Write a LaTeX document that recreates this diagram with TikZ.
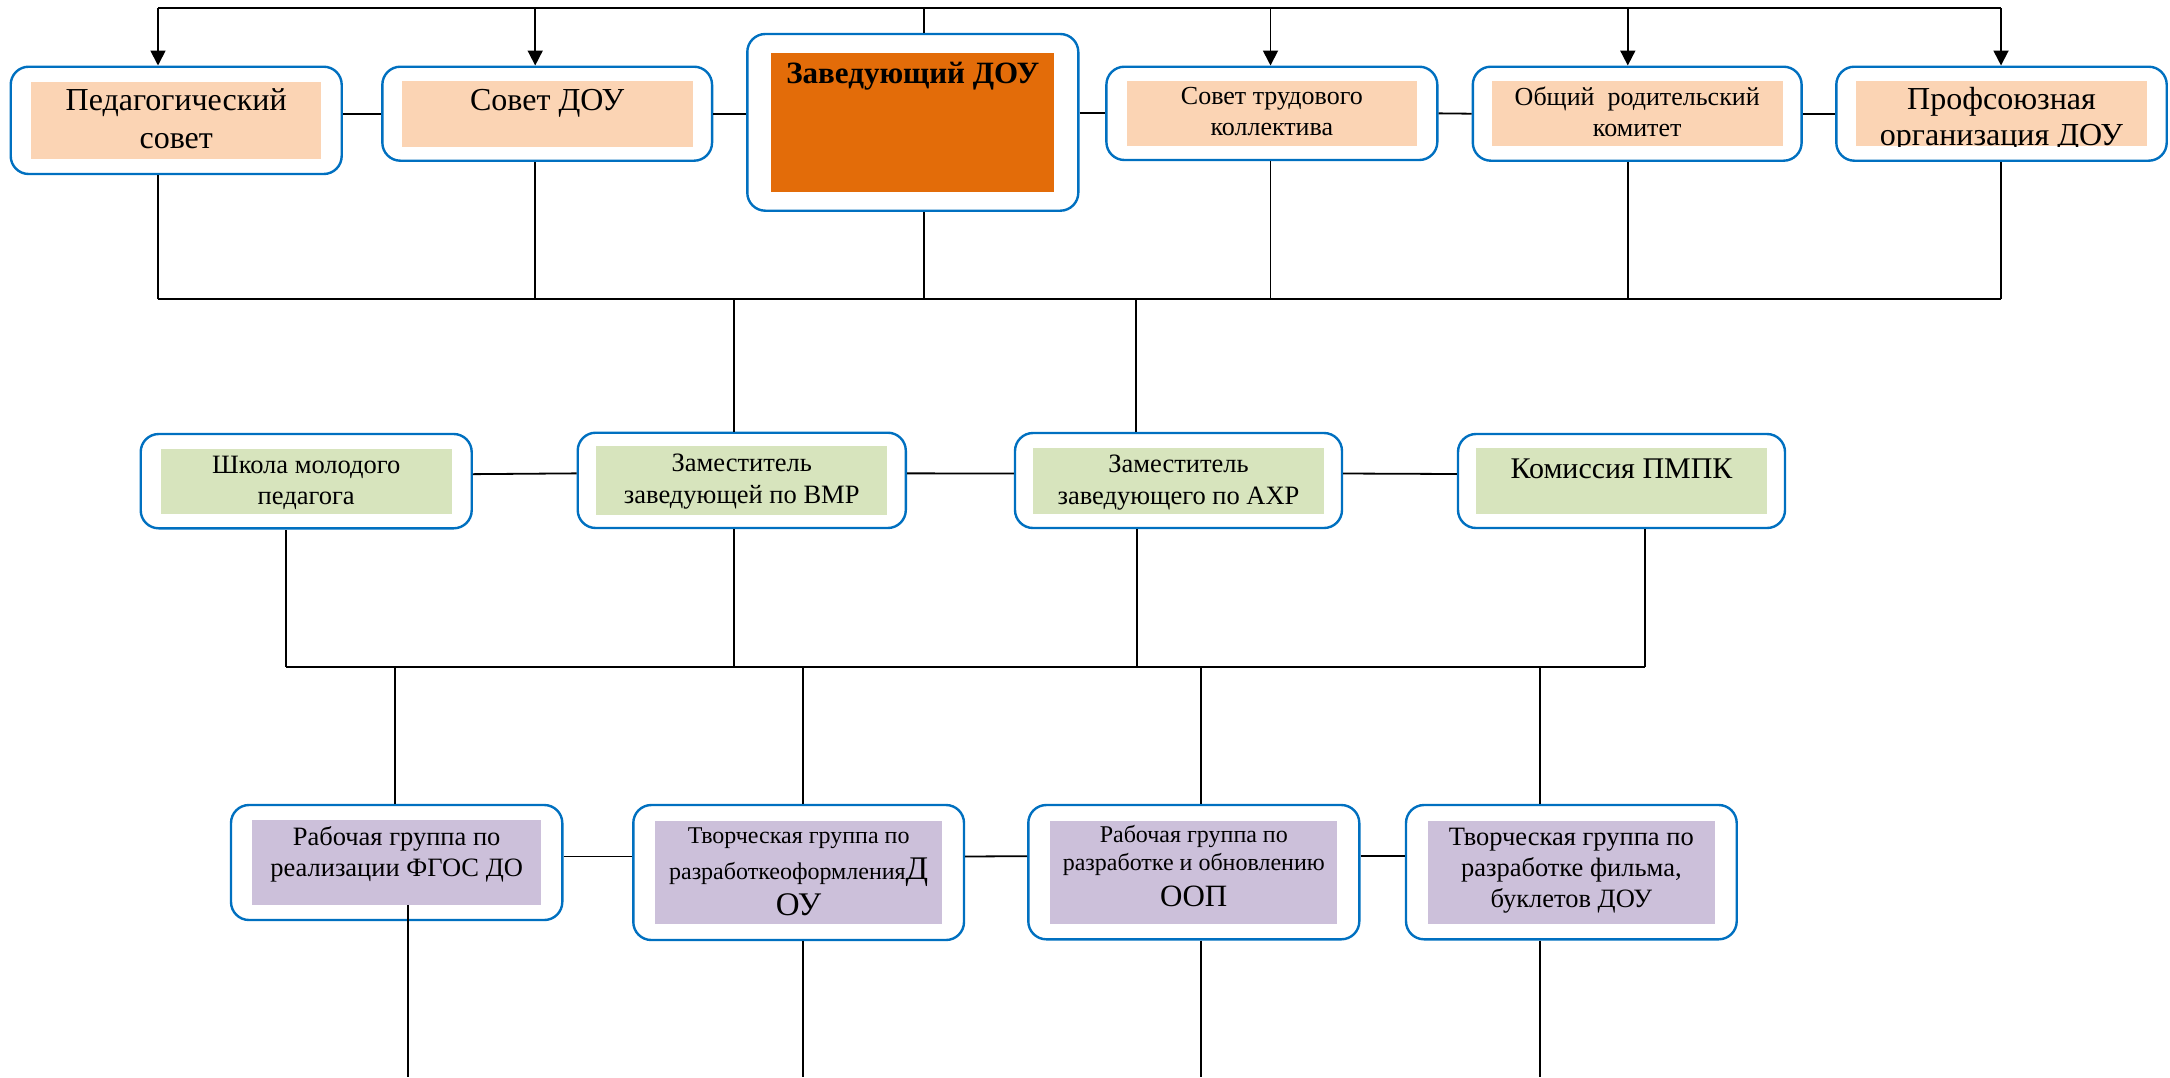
\documentclass[tikz,border=0pt]{standalone}
\usepackage{fontspec}
\setmainfont{Liberation Serif}
\usetikzlibrary{arrows.meta}
\definecolor{peach}{HTML}{FBD4B4}
\definecolor{sage}{HTML}{D7E4BD}
\definecolor{lilac}{HTML}{CCC0DA}
\definecolor{rust}{HTML}{E36C09}
\definecolor{edge}{HTML}{0070C0}
\newcommand{\intext}[4]{\parbox[c][#2][t]{#1}{\centering\rule{0pt}{#3}#4}}

\begin{document}
\begin{tikzpicture}[x=1pt, y=-1pt,
    roundbox/.style={draw=edge, line width=2.4pt, fill=white, rounded corners=18pt, inner sep=0pt},
    inbox/.style={inner sep=0pt, outer sep=0pt},
    link/.style={line width=1.8pt},
    down/.style={line width=1.8pt, -{Triangle[length=15pt, width=15pt]}}]
\useasboundingbox (0,0) rectangle (2170,1077);

% upper row
\node[roundbox, minimum width=331pt, minimum height=107.3pt] (ped) at (176.2,120.35) {};
\node[inbox, fill=peach, font={\fontsize{32}{38}\selectfont}] (ped-in) at (ped.center) {\intext{290pt}{76.7pt}{28pt}{Педагогический\\совет}};
\node[roundbox, minimum width=329.7pt, minimum height=94pt] (sov) at (547.2,113.7) {};
\node[inbox, fill=peach, font={\fontsize{32}{38}\selectfont}] (sov-in) at (sov.center) {\intext{290.8pt}{65.7pt}{29.7pt}{Совет ДОУ}};
\node[roundbox, minimum width=331pt, minimum height=176.7pt] (zav) at (912.8,122.35) {};
\node[inbox, fill=rust, font={\bfseries\fontsize{31}{36}\selectfont}] (zav-in) at (zav.center) {\intext{283pt}{139.7pt}{31pt}{Заведующий ДОУ}};
\node[roundbox, minimum width=330.9pt, minimum height=93.3pt] (str) at (1271.85,113.35) {};
\node[inbox, fill=peach, font={\fontsize{26}{31}\selectfont}] (str-in) at (str.center) {\intext{290.6pt}{65.4pt}{23.7pt}{Совет трудового\\коллектива}};
\node[roundbox, minimum width=328.8pt, minimum height=94pt] (rod) at (1637.2,113.7) {};
\node[inbox, fill=peach, font={\fontsize{26}{31}\selectfont}] (rod-in) at (rod.center) {\intext{290.6pt}{65.4pt}{24.7pt}{Общий~ родительский\\комитет}};
\node[roundbox, minimum width=330.4pt, minimum height=94pt] (prof) at (2001.5,113.7) {};
\node[inbox, fill=peach, minimum width=291pt, minimum height=65.4pt] (prof-in) at (prof.center) {};
\begin{scope}
  \clip (prof-in.north west) rectangle (prof-in.south east);
  \node[inbox, font={\fontsize{32}{36}\selectfont}] (prof-t) at (prof-in.center) {\intext{291pt}{65.4pt}{28.7pt}{Профсоюзная\\организация ДОУ}};
\end{scope}

% middle row
\node[roundbox, minimum width=331pt, minimum height=94.3pt] (shk) at (306.2,481.15) {};
\node[inbox, fill=sage, font={\fontsize{26.5}{31.7}\selectfont}] (shk-in) at (shk.center) {\intext{291pt}{64.7pt}{24.3pt}{Школа молодого\\педагога}};
\node[roundbox, minimum width=328.1pt, minimum height=95.3pt] (vmr) at (741.75,480.35) {};
\node[inbox, fill=sage, font={\fontsize{26.5}{31.6}\selectfont}] (vmr-in) at (vmr.center) {\intext{291.3pt}{69.7pt}{26.4pt}{Заместитель\\заведующей по ВМР}};
\node[roundbox, minimum width=327pt, minimum height=95pt] (ahr) at (1178.5,480.5) {};
\node[inbox, fill=sage, font={\fontsize{26.5}{31.6}\selectfont}] (ahr-in) at (ahr.center) {\intext{291pt}{66pt}{25pt}{Заместитель\\заведующего по АХР}};
\node[roundbox, minimum width=327pt, minimum height=94pt] (pmpk) at (1621.5,481) {};
\node[inbox, fill=sage, font={\fontsize{30}{36}\selectfont}] (pmpk-in) at (pmpk.center) {\intext{291pt}{65.7pt}{30pt}{Комиссия ПМПК}};

% lower row
\node[roundbox, minimum width=331.3pt, minimum height=115pt] (fgos) at (396.65,862.5) {};
\node[inbox, fill=lilac, font={\fontsize{26.5}{31.7}\selectfont}] (fgos-in) at (fgos.center) {\intext{288.7pt}{84.7pt}{25pt}{Рабочая группа по\\реализации ФГОС ДО}};
\node[roundbox, minimum width=330.7pt, minimum height=135pt] (tv1) at (798.65,872.5) {};
\node[inbox, fill=lilac, font={\fontsize{24}{36}\selectfont}] (tv1-in) at (tv1.center) {\intext{286.7pt}{102.7pt}{22pt}{Творческая группа по\\разработкеоформления{\fontsize{33}{36}\selectfont Д}\\{\fontsize{33}{36}\selectfont ОУ}}};
\node[roundbox, minimum width=331pt, minimum height=134.3pt] (oop) at (1193.8,872.15) {};
\node[inbox, fill=lilac, font={\fontsize{24}{27.7}\selectfont}] (oop-in) at (oop.center) {\intext{286.7pt}{103pt}{22.3pt}{Рабочая группа по\\разработке и обновлению\\[8pt]{\fontsize{31}{36}\selectfont ООП}}};
\node[roundbox, minimum width=330.7pt, minimum height=134.3pt] (film) at (1571.35,872.15) {};
\node[inbox, fill=lilac, font={\fontsize{26.5}{31}\selectfont}] (film-in) at (film.center) {\intext{287pt}{103pt}{24.7pt}{Творческая группа по\\разработке фильма,\\буклетов ДОУ}};

% connectors
\coordinate (a1) at (158,8.3);
\coordinate (a2) at (535.2,8.3);
\coordinate (a3) at (924,8.3);
\coordinate (a4) at (1270.5,8.3);
\coordinate (a5) at (1627.8,8.3);
\coordinate (a6) at (2001,8.3);
\draw[link] (a1) -- (a6);
\draw[link] (a3) -- (a3 |- zav.north);
\foreach \i/\n in {1/ped, 2/sov, 4/str, 5/rod, 6/prof}
  \draw[down] (a\i) -- (a\i |- \n.north);

\draw[link] (ped.east |- sov.west) -- (sov.west);
\draw[link] (sov.east) -- (sov.east -| zav.west);
\draw[link] (zav.east |- str.west) -- (str.west);
\draw[link] (str.east) -- (rod.west);
\draw[link] (rod.east) -- (prof.west);

\coordinate (b1) at (158,299.3);
\coordinate (b2) at (535.2,299.3);
\coordinate (b3) at (924,299.3);
\coordinate (b4) at (1270.5,299.3);
\coordinate (b5) at (1627.8,299.3);
\coordinate (b6) at (2001,299.3);
\draw[link] (b1) -- (b6);
\foreach \i/\n in {1/ped, 2/sov, 3/zav, 4/str, 5/rod, 6/prof}
  \draw[link] (b\i) -- (b\i |- \n.south);

\coordinate (m1) at (734,299.3);
\coordinate (m2) at (1136,299.3);
\draw[link] (m1) -- (m1 |- vmr.north);
\draw[link] (m2) -- (m2 |- ahr.north);

\draw[link] ([yshift=7pt]shk.east) -- ([yshift=7pt]vmr.west);
\draw[link] ([yshift=7pt]vmr.east) -- ([yshift=7pt]ahr.west);
\draw[link] ([yshift=7pt]ahr.east) -- ([yshift=7pt]pmpk.west);

\coordinate (c1) at (285.7,666.7);
\coordinate (c2) at (734,666.7);
\coordinate (c3) at (1137,666.7);
\coordinate (c4) at (1644.6,666.7);
\draw[link] (c1) -- (c4);
\foreach \i/\n in {1/shk, 2/vmr, 3/ahr, 4/pmpk}
  \draw[link] (c\i) -- (c\i |- \n.south);

\coordinate (d1) at (394.7,666.7);
\coordinate (d2) at (803.3,666.7);
\coordinate (d3) at (1201,666.7);
\coordinate (d4) at (1540.3,666.7);
\foreach \i/\n in {1/fgos, 2/tv1, 3/oop, 4/film}
  \draw[link] (d\i) -- (d\i |- \n.north);

\draw[link] ([yshift=6pt]fgos.east) -- ([yshift=16pt]tv1.west);
\draw[link] ([yshift=16pt]tv1.east) -- ([yshift=16pt]oop.west);
\draw[link] ([yshift=16pt]oop.east) -- ([yshift=16pt]film.west);

\coordinate (e1) at (408,1077);
\coordinate (e2) at (803.3,1077);
\coordinate (e3) at (1201,1077);
\coordinate (e4) at (1540.3,1077);
\draw[link] (fgos-in.south -| e1) -- (e1);
\draw[link] (tv1.south -| e2) -- (e2);
\draw[link] (oop.south -| e3) -- (e3);
\draw[link] (film.south -| e4) -- (e4);
\end{tikzpicture}
\end{document}
